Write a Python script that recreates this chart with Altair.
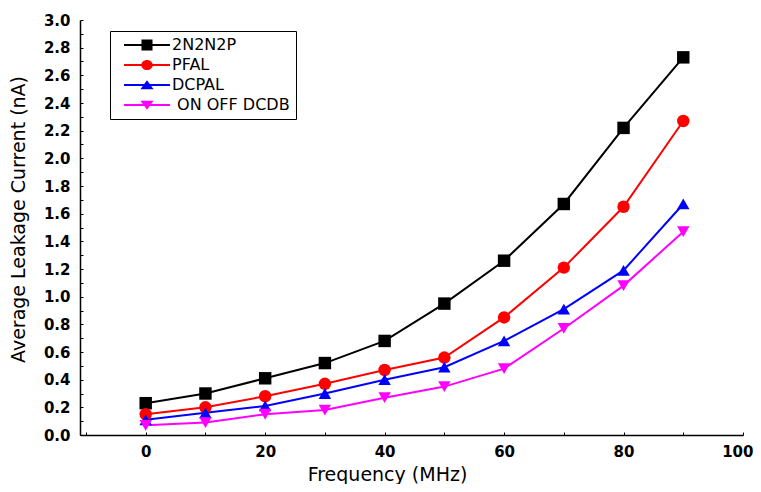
import altair as alt
import pandas as pd

# ---- data ----
freq = [0, 10, 20, 30, 40, 50, 60, 70, 80, 90]
series_names = ["2N2N2P", "PFAL", "DCPAL", "\u200b\u00a0ON OFF DCDB"]
v_2n2n2p = [0.23, 0.30, 0.41, 0.52, 0.68, 0.95, 1.26, 1.67, 2.22, 2.73]
v_pfal = [0.15, 0.20, 0.28, 0.37, 0.47, 0.56, 0.85, 1.21, 1.65, 2.27]
v_dcpal = [0.11, 0.16, 0.21, 0.30, 0.40, 0.49, 0.68, 0.91, 1.19, 1.67]
v_onoff = [0.07, 0.09, 0.15, 0.18, 0.27, 0.35, 0.48, 0.77, 1.08, 1.47]

x_tick_values = [0, 20, 40, 60, 80, 100]
y_tick_values = [0.0, 0.2, 0.4, 0.6, 0.8, 1.0, 1.2, 1.4, 1.6, 1.8, 2.0,
                 2.2, 2.4, 2.6, 2.8, 3.0]
x_inner_ticks = [-10, 0, 10, 20, 30, 40, 50, 60, 70, 80, 90, 100]
y_inner_ticks = [0.0, 0.1, 0.2, 0.3, 0.4, 0.5, 0.6, 0.7, 0.8, 0.9, 1.0,
                 1.1, 1.2, 1.3, 1.4, 1.5, 1.6, 1.7, 1.8, 1.9, 2.0,
                 2.1, 2.2, 2.3, 2.4, 2.5, 2.6, 2.7, 2.8, 2.9, 3.0]

colors = ["#000000", "#ff0000", "#0000ff", "#ff00ff"]
shapes = ["square", "circle", "triangle-up", "triangle-down"]
# legend symbols: a short line with the marker on it
legend_shapes = [
    "M-3.83,-0.17H3.83V0.17H-3.83Z M-0.92,-0.92H0.92V0.92H-0.92Z",
    "M-3.83,-0.17H3.83V0.17H-3.83Z M0.95,0 A0.95,0.85 0 1,1 -0.95,0 A0.95,0.85 0 1,1 0.95,0 Z",
    "M-3.83,-0.17H3.83V0.17H-3.83Z M0,-0.8 L1.1,0.7 L-1.1,0.7 Z",
    "M-3.83,-0.17H3.83V0.17H-3.83Z M-1.1,-0.7 L1.1,-0.7 L0,0.8 Z",
]

all_values = [v_2n2n2p, v_pfal, v_dcpal, v_onoff]
rows = []
for name, vals in zip(series_names, all_values):
    for f, v in zip(freq, vals):
        rows.append({"freq": f, "value": v, "series": name})
df = pd.DataFrame(rows)

x_scale = alt.Scale(domain=[-11, 100], nice=False, zero=False)
y_scale = alt.Scale(domain=[0, 3.0], nice=False, zero=False)
color_scale = alt.Scale(domain=series_names, range=colors)

x_axis = alt.Axis(
    values=x_tick_values, ticks=False, labelPadding=9, grid=False,
    labelFlush=True, labelFlushOffset=10,
    labelFont="DejaVu Sans", labelFontWeight="bold", labelFontSize=15,
    labelColor="black", domainColor="black", domainWidth=1.5,
    title="Frequency (MHz)", titleFont="DejaVu Sans", titleFontSize=19,
    titleFontWeight="normal", titleColor="black",
    titleX=307, titleY=39, titleBaseline="middle", titleAlign="center",
)
y_axis = alt.Axis(
    values=y_tick_values, format=".1f", ticks=False, labelPadding=10, grid=False,
    labelFlush=False,
    labelFont="DejaVu Sans", labelFontWeight="bold", labelFontSize=15,
    labelColor="black", domainColor="black", domainWidth=1.5,
    title="Average Leakage Current (nA)", titleFont="DejaVu Sans",
    titleFontSize=19, titleFontWeight="normal", titleColor="black",
    titleX=-62, titleY=199, titleBaseline="middle", titleAlign="center",
    titleAngle=270,
)

base = alt.Chart(df)

lines = base.mark_line(strokeWidth=2).encode(
    x=alt.X("freq:Q", scale=x_scale, axis=x_axis),
    y=alt.Y("value:Q", scale=y_scale, axis=y_axis),
    color=alt.Color("series:N", scale=color_scale, legend=None),
)

points = base.mark_point(filled=True, size=155, opacity=1).encode(
    x=alt.X("freq:Q", scale=x_scale, axis=None),
    y=alt.Y("value:Q", scale=y_scale, axis=None),
    color=alt.Color("series:N", scale=color_scale, legend=None),
    shape=alt.Shape("series:N", scale=alt.Scale(domain=series_names, range=shapes),
                    legend=None),
)

legend_def = alt.Legend(
    title=None, orient="none", legendX=30, legendY=11,
    strokeColor="black", fillColor="white", padding=6,
    labelFont="DejaVu Sans", labelFontSize=16, labelColor="black",
    labelLimit=0, symbolSize=144, symbolStrokeWidth=0,
    symbolOffset=23, labelOffset=17, rowPadding=4.0,
)

legend_layer = base.transform_filter("false").mark_point(
    filled=True, size=144, opacity=1
).encode(
    fill=alt.Fill("series:N", scale=alt.Scale(domain=series_names, range=colors),
                  legend=legend_def),
    shape=alt.Shape("series:N",
                    scale=alt.Scale(domain=series_names, range=legend_shapes),
                    legend=legend_def),
)

inner_ticks = base.transform_filter("false").mark_point().encode(
    x=alt.X("freq:Q", scale=x_scale, axis=alt.Axis(
        orient="top", offset=-415, values=x_inner_ticks, labels=False,
        domain=False, ticks=True, tickSize=3, tickColor="black", tickWidth=1,
        grid=False, title=None)),
    y=alt.Y("value:Q", scale=y_scale, axis=alt.Axis(
        orient="right", offset=-663, values=y_inner_ticks, labels=False,
        domain=False, ticks=True, tickSize=3, tickColor="black", tickWidth=1,
        grid=False, title=None)),
)

chart = alt.layer(lines, points, legend_layer, inner_ticks).resolve_scale(
    shape="independent", fill="independent"
).resolve_axis(
    x="independent", y="independent"
).properties(
    width=663, height=415,
    autosize=alt.AutoSizeParams(type="none"),
    padding={"left": 72, "top": 12, "right": 10, "bottom": 49},
    background="white",
).configure_view(stroke=None)

chart.save("out.html", embed_options={"renderer": "svg", "actions": False})
